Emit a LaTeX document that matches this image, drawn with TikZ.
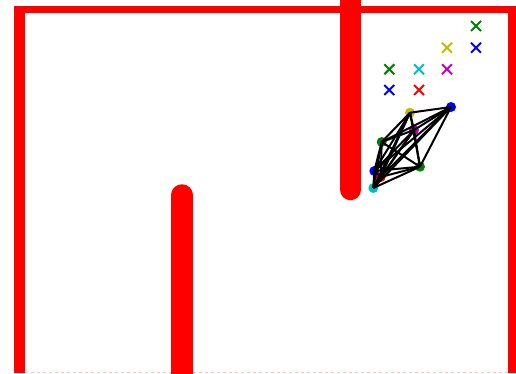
\documentclass[tikz,border=0pt]{standalone}
\usetikzlibrary{shapes.misc}
\definecolor{wall}{HTML}{FF0000}
\definecolor{mg}{rgb}{0,0.5,0}
\definecolor{mb}{rgb}{0,0,1}
\definecolor{my}{rgb}{0.75,0.75,0}
\definecolor{mm}{rgb}{0.75,0,0.75}
\definecolor{mc}{rgb}{0,0.75,0.75}
\definecolor{mr}{rgb}{1,0,0}
\tikzset{robot/.style={circle,fill=#1,inner sep=0pt,minimum size=10pt},goal/.style={cross out,draw=#1,line width=2pt,inner sep=0pt,minimum size=8pt},link/.style={black,line width=2pt},barrier/.style={wall,line width=21.5pt,line cap=round}}
\begin{document}
\begin{tikzpicture}[x=1pt,y=-1pt]
\useasboundingbox (0,0) rectangle (516,373);
\clip (0,0) rectangle (516,373);
% outer walls
\fill[wall] (14,6) rectangle (516,12.5);
\fill[wall] (14,6) rectangle (25,373);
\fill[wall] (508,6) rectangle (516,373);
\draw[wall!25,dashed,line width=1pt] (25,372) -- (508,372);
% inner walls
\draw[barrier] (350.5,0) -- (350.5,189.5);
\draw[barrier] (182,195) -- (182,390);
% goals
\node[goal=mg] (g1) at (476,26) {};
\node[goal=mb] (g2) at (476,47.7) {};
\node[goal=my] (g3) at (447,47.7) {};
\node[goal=mm] (g4) at (447,69.3) {};
\node[goal=mc] (g5) at (419,69.3) {};
\node[goal=mg] (g6) at (389.3,69.3) {};
\node[goal=mb] (g7) at (389.3,90) {};
\node[goal=mr] (g8) at (419,90) {};
% robots
\node[robot=my] (r1) at (410,112.7) {};
\node[robot=mb] (r2) at (451,107) {};
\node[robot=mm] (r3) at (414,130) {};
\node[robot=mg] (r4) at (381.7,142) {};
\node[robot=mg] (r5) at (420,166.7) {};
\node[robot=mb] (r6) at (374.3,171) {};
\node[robot=mr] (r7) at (380.7,177) {};
\node[robot=mc] (r8) at (373.3,188) {};
% communication links
\foreach \i in {1,...,8}{\foreach \j in {\i,...,8}{\ifnum\i<\j \draw[link] (r\i.center)--(r\j.center);\fi}}
\end{tikzpicture}
\end{document}
